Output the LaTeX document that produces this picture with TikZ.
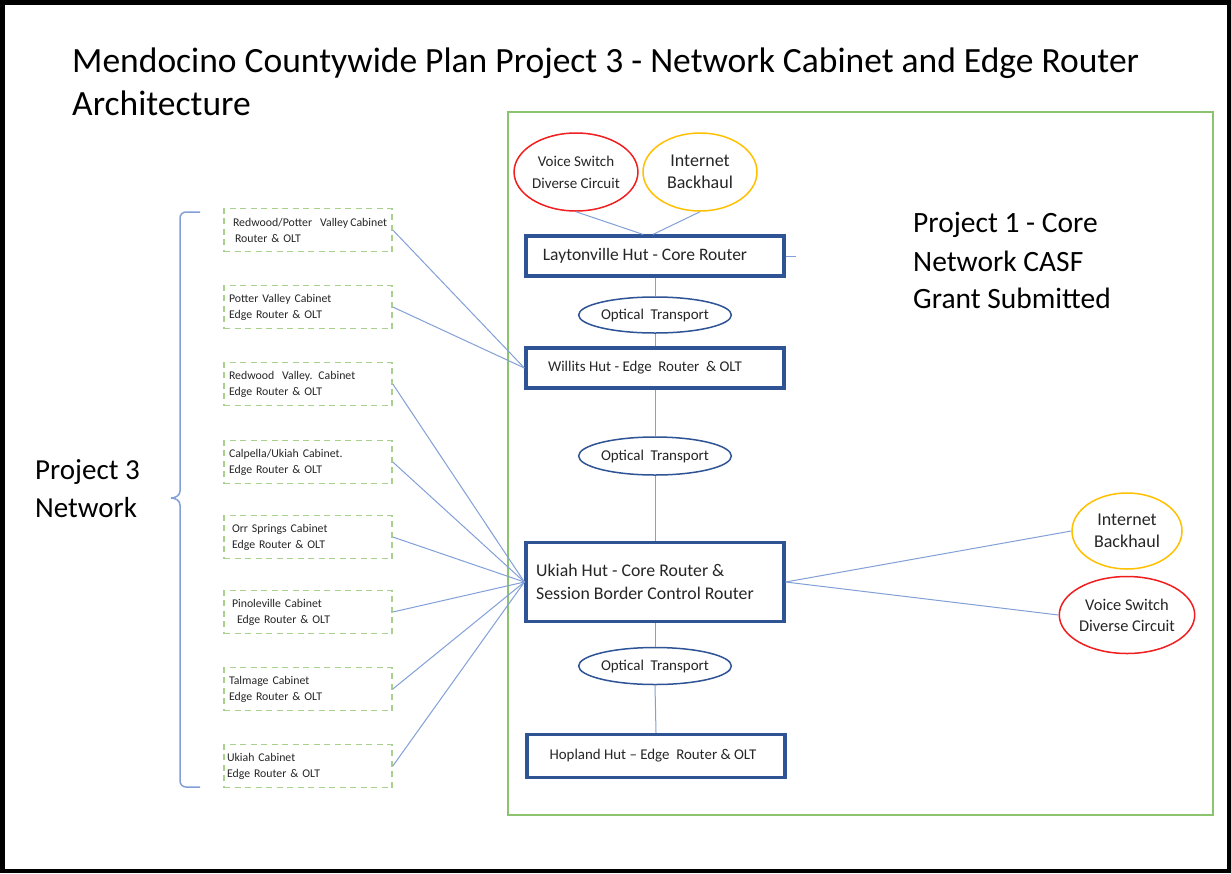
\documentclass[tikz,border=0pt]{standalone}
\usepackage{fontspec}
\setmainfont{Carlito}
\usetikzlibrary{shapes.geometric}
\definecolor{hutblue}{RGB}{47,84,150}
\definecolor{linkblue}{RGB}{130,160,215}
\definecolor{frgreen}{RGB}{140,195,110}
\definecolor{dgreen}{RGB}{169,209,142}
\definecolor{ered}{RGB}{240,30,30}
\definecolor{eyellow}{RGB}{255,192,0}
\definecolor{txt}{RGB}{38,38,38}
\tikzset{
  hutbox/.style={draw=hutblue, line width=3.2pt, fill=white, text=txt, minimum width=258pt, inner sep=0pt},
  optic/.style={draw=hutblue, line width=1.5pt, ellipse, fill=white, text=txt, inner sep=0pt, font=\fontsize{15}{17}\selectfont},
  srcell/.style={ellipse, line width=1.5pt, fill=white, text=txt, inner sep=0pt, align=center, font=\fontsize{15}{22}\selectfont},
  cab/.style={draw=dgreen, line width=1.6pt, dash pattern=on 6pt off 4.5pt, text=txt, text width=164pt, inner xsep=2pt, inner ysep=5pt, minimum height=43pt, align=left, font=\fontsize{11.8}{16}\selectfont},
  link/.style={draw=linkblue, line width=1pt},
  bigtxt/.style={text=black, inner sep=0pt, anchor=base west},
}
\begin{document}
\begin{tikzpicture}[x=1pt,y=-1pt]
\useasboundingbox (0,0) rectangle (1231,873);
\fill[white] (0,0) rectangle (1231,873);
\draw[black, line width=4.5pt] (2.25,2.25) rectangle (1228.75,870.75);
% title
\node[bigtxt, font=\fontsize{35.5}{40}\selectfont] (title1) at (72,72) {Mendocino Countywide Plan Project 3 - Network Cabinet and Edge Router};
\node[bigtxt, font=\fontsize{35.5}{40}\selectfont] (title2) at (72,115) {Architecture};
% green frame
\draw[frgreen, line width=1.6pt] (508,112) rectangle (1213,815);
% project 1 text
\node[bigtxt, font=\fontsize{29.5}{34}\selectfont] (p1a) at (913,232) {Project 1 - Core};
\node[bigtxt, font=\fontsize{29.5}{34}\selectfont] (p1b) at (913,271) {Network CASF};
\node[bigtxt, font=\fontsize{29.5}{34}\selectfont] (p1c) at (913,308) {Grant Submitted};
% project 3 text
\node[bigtxt, font=\fontsize{29}{34}\selectfont] (p3a) at (35,479) {Project 3};
\node[bigtxt, font=\fontsize{29}{34}\selectfont] (p3b) at (35,517) {Network};
% brace
\draw[linkblue, line width=1.5pt] (200,212) -- (186,212) to[out=180,in=90] (180,218) -- (180,491) to[out=270,in=0] (171,498);
\draw[linkblue, line width=1.5pt] (171,498) to[out=0,in=90] (180,505) -- (180,781) to[out=270,in=180] (186,787) -- (200,787);
% huts
\node[hutbox, minimum height=40pt, font=\fontsize{17.5}{20}\selectfont] (lay) at (655,256) {Laytonville Hut - Core Router\hspace*{20pt}};
\node[hutbox, minimum height=40pt, font=\fontsize{14.9}{18}\selectfont] (wil) at (655,368) {Willits Hut - Edge\ \ Router\ \ \& OLT\hspace*{20pt}};
\node[hutbox, minimum height=79pt, align=left, font=\fontsize{17.8}{23}\selectfont] (uk) at (655,582) {Ukiah Hut - Core Router \&\\Session Border Control Router\hspace*{20pt}};
\node[hutbox, minimum height=43pt, font=\fontsize{14.9}{18}\selectfont] (hop) at (656,756) {Hopland Hut -- Edge\ \ Router \& OLT\hspace*{6pt}};
% optical transport
\node[optic, minimum width=144pt, minimum height=36pt] (op1) at (655,315) {Optical\ \ Transport};
\node[optic, minimum width=144pt, minimum height=38pt] (op2) at (655,456) {Optical\ \ Transport};
\node[optic, minimum width=152pt, minimum height=37pt] (op3) at (655,666) {Optical\ \ Transport};
% source ellipses
\node[srcell, draw=ered, minimum width=112pt, minimum height=78pt] (vs1) at (576,172) {Voice Switch\\Diverse Circuit};
\node[srcell, draw=eyellow, minimum width=114pt, minimum height=78pt, font=\fontsize{18}{22}\selectfont] (ib1) at (700,172) {Internet\\Backhaul};
\node[srcell, draw=eyellow, minimum width=110pt, minimum height=76pt, font=\fontsize{18}{22}\selectfont] (ib2) at (1127,531) {Internet\\Backhaul};
\node[srcell, draw=ered, minimum width=113pt, minimum height=77pt, font=\fontsize{16.4}{21}\selectfont] (vs2) at (1127,615) {Voice Switch\\Diverse Circuit};
% cabinets
\node[cab] (c1) at (308,230) {\mbox{\hspace*{7pt}Redwood/Potter\ \ Valley\,Cabinet}\\\mbox{\hspace*{9pt}Router \& OLT}};
\node[cab] (c2) at (308,307) {\mbox{\hspace*{3pt}Potter Valley Cabinet}\\\mbox{\hspace*{3pt}Edge Router \& OLT}};
\node[cab] (c3) at (308,384) {\mbox{\hspace*{3pt}Redwood\ \ Valley. Cabinet}\\\mbox{\hspace*{3pt}Edge Router \& OLT}};
\node[cab] (c4) at (308,462) {\mbox{\hspace*{3pt}Calpella/Ukiah Cabinet.}\\\mbox{\hspace*{3pt}Edge Router \& OLT}};
\node[cab] (c5) at (308,537) {\mbox{\hspace*{6pt}Orr Springs Cabinet}\\\mbox{\hspace*{6pt}Edge Router \& OLT}};
\node[cab] (c6) at (308,612) {\mbox{\hspace*{6pt}Pinoleville Cabinet}\\\mbox{\hspace*{11pt}Edge Router \& OLT}};
\node[cab] (c7) at (308,689) {\mbox{\hspace*{3pt}Talmage Cabinet}\\\mbox{\hspace*{3pt}Edge Router \& OLT}};
\node[cab] (c8) at (308,766) {\mbox{\hspace*{1pt}Ukiah Cabinet}\\\mbox{\hspace*{1pt}Edge Router \& OLT}};
% links
\coordinate (stub) at ([xshift=10pt]lay.east);
\path[link] (vs1.south) -- ([xshift=-12pt]lay.north);
\path[link] (ib1.south) -- ([xshift=-2pt]lay.north);
\path[link] (lay.east) -- (stub);
\path[link] (lay.south) -- (op1.north);
\path[link] (op1.south) -- (wil.north);
\path[link] (wil.south) -- (op2.north);
\path[link] (op2.south) -- (uk.north);
\path[link] (uk.south) -- (op3.north);
\path[link] (op3.south) -- (hop.north);
\path[link] (c1.east) -- (wil.west);
\path[link] (c2.east) -- (wil.west);
\foreach \c in {c3,c4,c5,c6,c7,c8} \path[link] (\c.east) -- (uk.west);
\path[link] (uk.east) -- (ib2.west);
\path[link] (uk.east) -- (vs2.west);
\end{tikzpicture}
\end{document}
